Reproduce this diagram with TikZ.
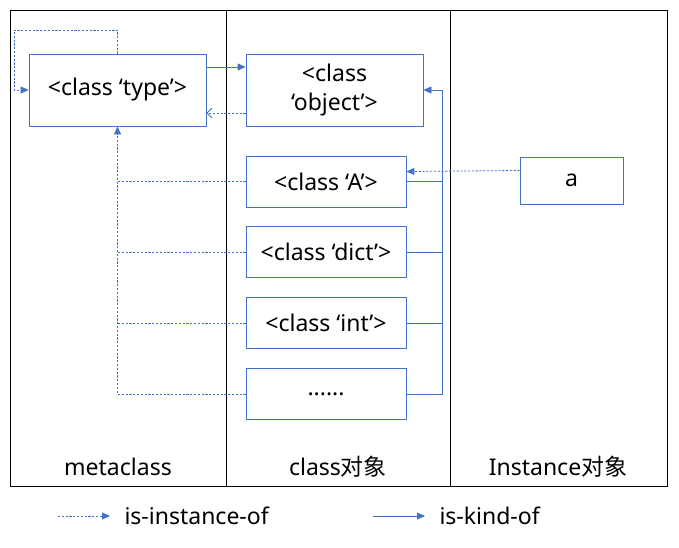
\documentclass[tikz,border=0pt]{standalone}
\usepackage{fontspec}
\setmainfont{Noto Sans}
\newfontfamily\cjk{Noto Sans CJK SC}
\usetikzlibrary{arrows.meta,positioning}

\definecolor{linkblue}{HTML}{4472C4}

\begin{document}
\begin{tikzpicture}[x=1pt,y=-1pt,
    font=\fontsize{23}{29}\selectfont,
    classbox/.style={draw=linkblue,thick,minimum width=160pt,minimum height=51pt,inner sep=2pt},
    isinst/.style={draw=linkblue,thick,dash pattern=on 2.2pt off 1.6pt,-{Triangle[length=8pt,width=7pt]}},
    iskind/.style={draw=linkblue,thick,-{Triangle[length=8pt,width=7pt]}}]
    \useasboundingbox (0,0) rectangle (679,548);
    % frame and columns
    \draw[thick] (10,10) rectangle (667,486);
    \draw[thick] (226,10) -- (226,486);
    \draw[thick] (450,10) -- (450,486);
    % column titles
    \node (meta) at (118,467) {metaclass};
    \node (clsobj) at (338,467) {class{\cjk 对象}};
    \node (instobj) at (558,467) {Instance{\cjk 对象}};
    % boxes
    \node[classbox, minimum width=177pt, minimum height=72pt] (type) at (117.5,90) {<class ‘type’>};
    \node[classbox, minimum width=177pt, minimum height=72pt, align=center] (object) at (334.5,90) {<class\\‘object’>};
    \node[classbox] (A) at (326,181.5) {<class ‘A’>};
    \node[classbox, below=19pt of A] (dict) {<class ‘dict’>};
    \node[classbox, below=19pt of dict] (int) {<class ‘int’>};
    \node[classbox, below=19pt of int] (dots) {......};
    \node[classbox, minimum width=103pt, minimum height=47pt] (a) at (571.5,180.5) {a};
    % is-instance-of links
    \coordinate (loop) at (14,30);
    \draw[isinst] (type.north) |- (loop) |- (type.west);
    \draw[isinst, -{Straight Barb[length=5pt,width=10pt]}] ([yshift=-23pt]object.west) -- ([yshift=-23pt]type.east);
    \draw[isinst, -] (A.west) -- (A.west -| type.south);
    \draw[isinst, -] (dict.west) -- (dict.west -| type.south);
    \draw[isinst, -] (int.west) -- (int.west -| type.south);
    \draw[isinst] (dots.west) -| (type.south);
    \draw[isinst] ([yshift=10pt]a.west) -- ([yshift=10pt]A.east);
    % is-kind-of links
    \draw[iskind] ([yshift=23pt]type.east) -- ([yshift=23pt]object.west);
    \draw[iskind, -] (A.east) -- ++(36,0);
    \draw[iskind, -] (dict.east) -- ++(36,0);
    \draw[iskind, -] (int.east) -- ++(36,0);
    \draw[iskind] (dots.east) -- ++(36,0) |- (object.east);
    % legend
    \node[anchor=west] (linst) at (121,516) {is-instance-of};
    \node[anchor=west] (lkind) at (436,516) {is-kind-of};
    \coordinate (linstS) at (58,516);
    \coordinate (lkindS) at (373,516);
    \draw[isinst] (linstS) -- ([xshift=-11pt]linst.west);
    \draw[iskind] (lkindS) -- ([xshift=-11pt]lkind.west);
\end{tikzpicture}
\end{document}
